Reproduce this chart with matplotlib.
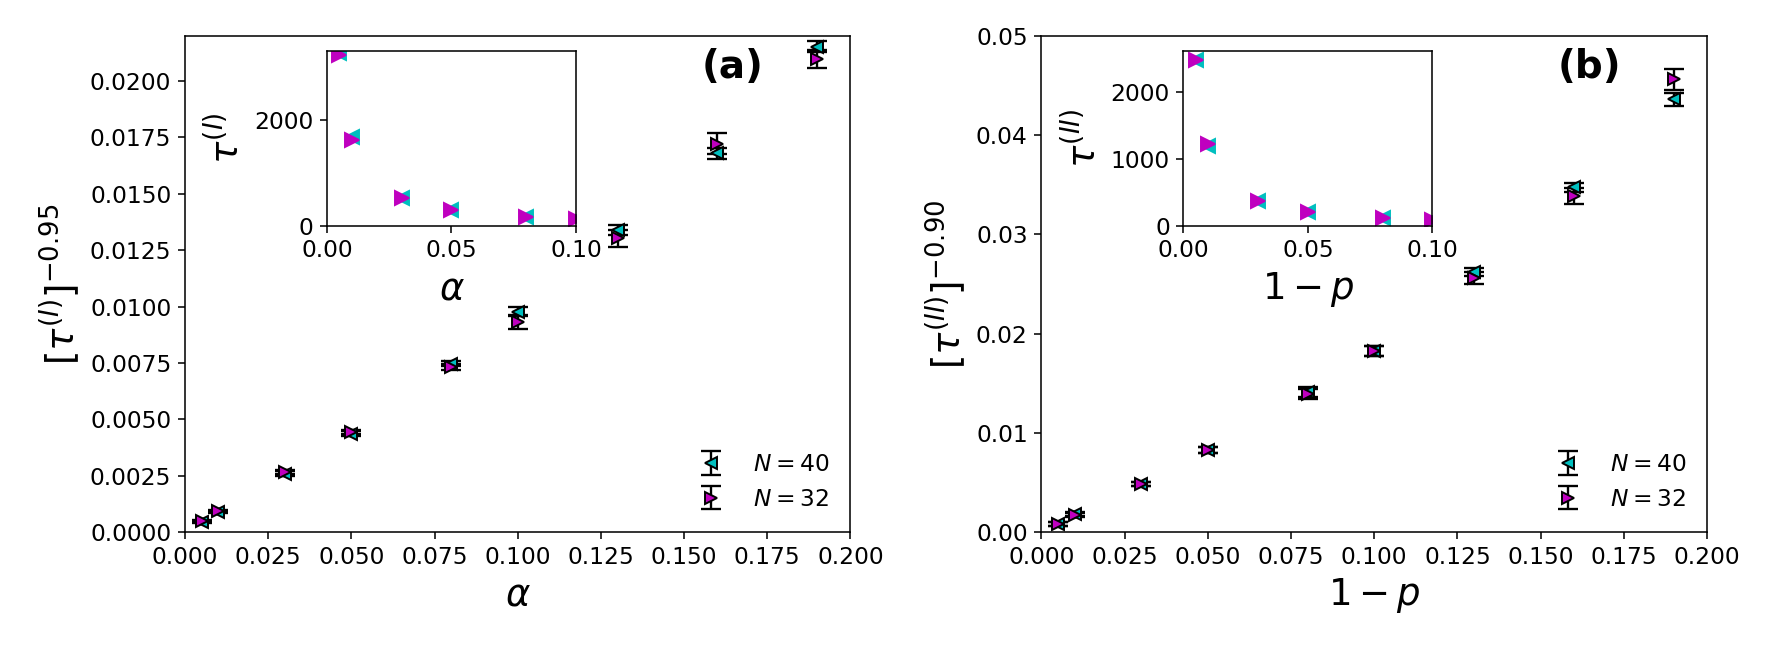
import numpy as np
import matplotlib
matplotlib.use('Agg')
import matplotlib.pyplot as plt

# main panels: x positions
x_main = [0.005, 0.01, 0.03, 0.05, 0.08, 0.1, 0.13, 0.16, 0.19]

# panel (a): [tau^(I)]^-0.95
y40_a = [0.00044, 0.00089, 0.00259, 0.00436, 0.00747, 0.00976, 0.01339, 0.01679, 0.02152]
e40_a = [0.00004, 0.00005, 0.0001, 0.0001, 0.00012, 0.0002, 0.00022, 0.00025, 0.00025]
y32_a = [0.00047, 0.00093, 0.00266, 0.00444, 0.00732, 0.00932, 0.01302, 0.01723, 0.02096]
e32_a = [0.00004, 0.00005, 0.0001, 0.0001, 0.00012, 0.0003, 0.00037, 0.00045, 0.0004]

# panel (b): [tau^(II)]^-0.90
y40_b = [0.00084, 0.00178, 0.00487, 0.00829, 0.01409, 0.01829, 0.02617, 0.03473, 0.04362]
e40_b = [0.0002, 0.0002, 0.0002, 0.0003, 0.0005, 0.0005, 0.0004, 0.0005, 0.00067]
y32_b = [0.00077, 0.00168, 0.0048, 0.00822, 0.01393, 0.01829, 0.0256, 0.03389, 0.04564]
e32_b = [0.0002, 0.0002, 0.0002, 0.0003, 0.0005, 0.0005, 0.0006, 0.0008, 0.00104]

# insets: raw tau
x_ins = [0.005, 0.01, 0.03, 0.05, 0.08, 0.1]
t40_a = [3260, 1672, 530, 300, 175, 128]
t32_a = [3230, 1621, 517, 297, 170, 126]
t40_b = [2475, 1195, 375, 210, 120, 85]
t32_b = [2475, 1225, 370, 210, 118, 85]

labsize = 19
plt.rcParams['xtick.labelsize'] = 12
plt.rcParams['ytick.labelsize'] = 12

fig = plt.figure(figsize=(1770/140, 645/140), dpi=140)

panels = [
    (0.1045, y40_a, e40_a, y32_a, e32_a, 0.022, r'$\alpha$', r'$[\tau^{(I)}]^{-0.95}$', '(a)',
     t40_a, t32_a, 3306, [0, 2000], r'$\tau^{(I)}$'),
    (0.5884, y40_b, e40_b, y32_b, e32_b, 0.05, r'$1-p$', r'$[\tau^{(II)}]^{-0.90}$', '(b)',
     t40_b, t32_b, 2607, [0, 1000, 2000], r'$\tau^{(II)}$'),
]

for (left, y40, e40, y32, e32, ytop, xlab, ylab, tag, t40, t32, ttop, tticks, tlab) in panels:
    ax = fig.add_axes([left, 0.1752, 0.376, 0.769])
    ax.errorbar(x_main, y40, yerr=e40, fmt='<', color='c', mec='k', ms=6.5,
                ecolor='k', elinewidth=1.2, capsize=5, capthick=1.2, label=r'$N=40$')
    ax.errorbar(x_main, y32, yerr=e32, fmt='>', color='m', mec='k', ms=6.5,
                ecolor='k', elinewidth=1.2, capsize=5, capthick=1.2, label=r'$N=32$')
    ax.set_xlim(0, 0.2)
    ax.set_ylim(0, ytop)
    ax.set_xlabel(xlab, fontsize=labsize)
    ax.set_ylabel(ylab, fontsize=labsize)
    ax.text(0.823, 0.9375, tag, transform=ax.transAxes, fontsize=20,
            fontweight='bold', ha='center', va='center')
    ax.legend(loc='lower right', frameon=False, fontsize=12)

    # inset
    ins = fig.add_axes([left + 0.0802, 0.650, 0.1407, 0.2709])
    ins.plot(x_ins, t40, '<', color='c', ms=7, ls='none')
    ins.plot(x_ins, t32, '>', color='m', ms=7, ls='none')
    ins.set_xlim(0, 0.1)
    ins.set_ylim(0, ttop)
    ins.set_xticks([0, 0.05, 0.1])
    ins.set_yticks(tticks)
    ins.set_xlabel(xlab, fontsize=labsize)
    ins.set_ylabel(tlab, fontsize=labsize)

fig.savefig('out.png', dpi=140)
